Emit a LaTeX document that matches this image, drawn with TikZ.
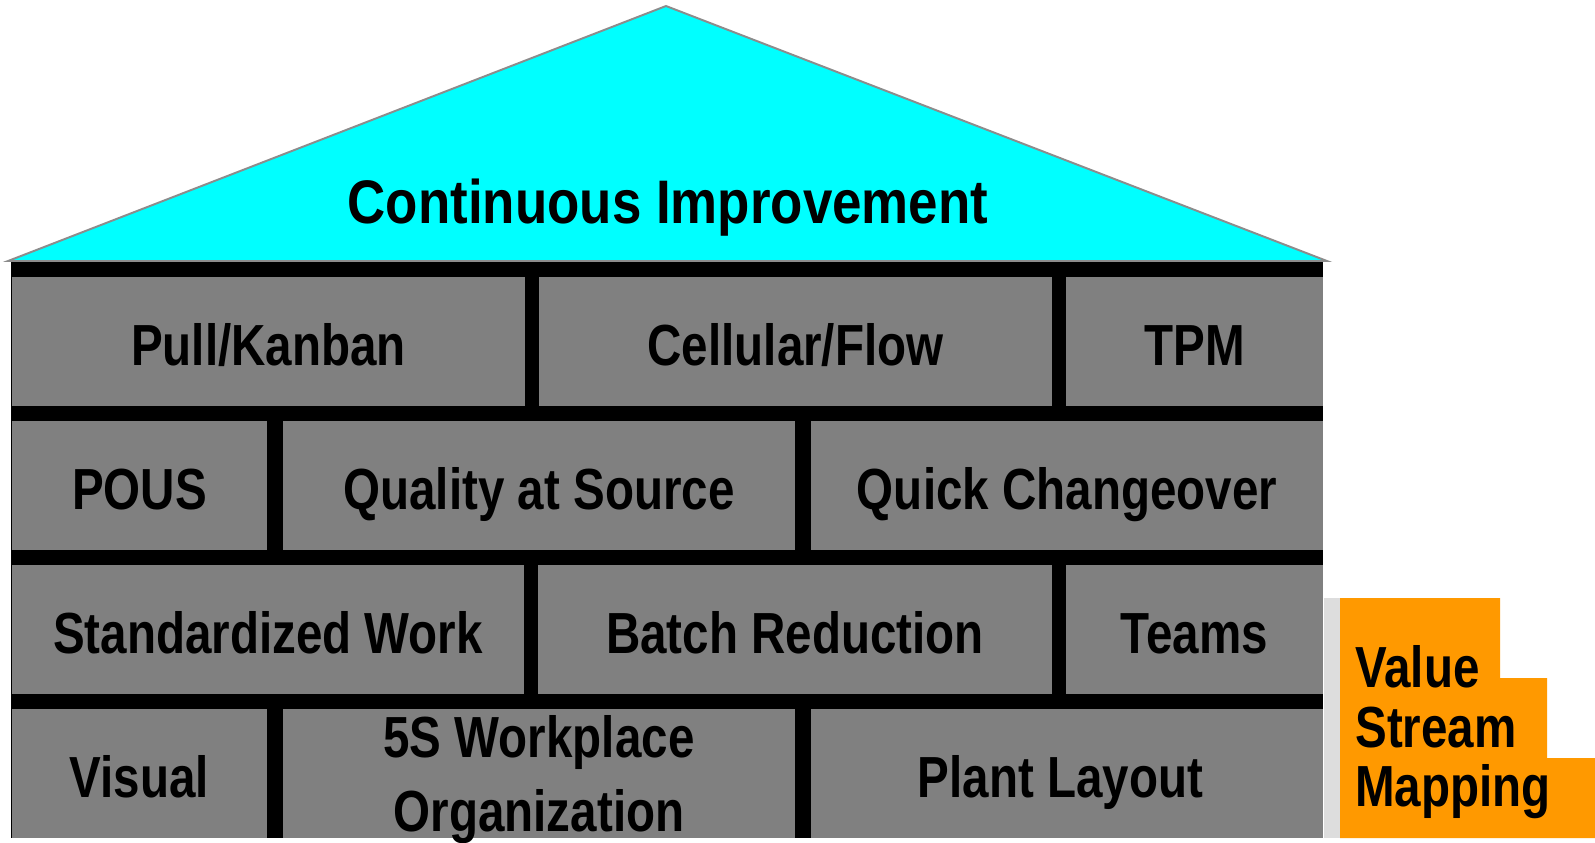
\documentclass[tikz,border=0pt]{standalone}
\usepackage{fontspec}
\setsansfont{Liberation Sans}[FakeStretch=0.82]
\newfontfamily\rooffont{Liberation Sans}[FakeStretch=0.86]
\definecolor{roofcyan}{HTML}{00FFFF}
\definecolor{brickgray}{HTML}{808080}
\definecolor{vsmorange}{HTML}{FF9900}
\definecolor{ledge}{HTML}{DDDDDD}
\begin{document}
\begin{tikzpicture}[x=0.02cm, y=-0.02cm, font=\sffamily\bfseries,
  brick/.style={rectangle, fill=brickgray, inner sep=0pt, font=\sffamily\bfseries\fontsize{33}{42}\selectfont, align=center, text height=36pt, text depth=8.25pt}]
\useasboundingbox (0,0) rectangle (1595,842);
\def\rowtop{277}
\def\rowpitch{144}
\def\rowheight{129}
% roof
\draw[fill=roofcyan, draw=black!45, line width=1.1pt, line join=miter] (8,261) -- (666,6) -- (1327,261) -- cycle;
\node[font=\rooffont\bfseries\fontsize{35}{35}\selectfont] (roof) at (668,208) {Continuous Improvement};
% mortar behind the bricks
\fill[black] (11,262) rectangle (1323,838);
% bricks: name, left, right, row, text
\foreach \id/\xa/\xb/\row/\txt in {
  pull/12/525/0/{Pull/Kanban},
  cell/539/1052/0/{Cellular/Flow},
  tpm/1066/1323/0/TPM,
  pous/12/267/1/POUS,
  qas/283/795/1/Quality at Source,
  qco/811/1323/1/Quick Changeover,
  stdw/12/524/2/Standardized Work,
  batch/538/1052/2/Batch Reduction,
  teams/1066/1323/2/Teams,
  visual/12/267/3/Visual,
  layout/811/1323/3/Plant Layout
} {
  \pgfmathsetmacro{\bw}{(\xb-\xa)*0.02}
  \pgfmathsetmacro{\bx}{(\xa+\xb)/2}
  \pgfmathsetmacro{\by}{\rowtop+\row*\rowpitch+\rowheight/2}
  \node[brick, minimum width=\bw cm, minimum height=\rowheight*0.02cm] (\id) at (\bx,\by) {\txt};
}
% two-line brick
\node[brick, text height=, text depth=-11pt, minimum width=10.24cm, minimum height=\rowheight*0.02cm] (fives) at (539,773.5) {5S Workplace\\Organization};
% value stream mapping steps
\fill[ledge] (1324,598) rectangle (1340,838);
\fill[vsmorange] (1340,598) -- (1500,598) -- (1500,678) -- (1547,678) -- (1547,758)
  -- (1595,758) -- (1595,838) -- (1340,838) -- cycle;
\node[anchor=north west, align=left, inner sep=0pt, font=\sffamily\bfseries\fontsize{33}{34}\selectfont] (vsm) at (1355,645) {Value\\Stream\\Mapping};
\end{tikzpicture}
\end{document}
